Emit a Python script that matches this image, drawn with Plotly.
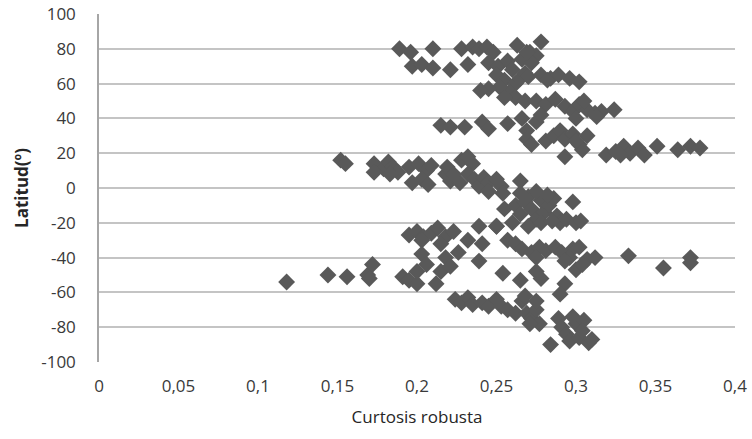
import plotly.graph_objects as go

# Curtosis robusta (x) vs Latitud (y)
curtosis = [
    0.189, 0.196, 0.210, 0.228, 0.235, 0.239, 0.244, 0.248, 0.263, 0.271, 0.278, 0.275,
    0.197, 0.203, 0.210, 0.221, 0.232, 0.245, 0.251, 0.257, 0.266, 0.272, 0.269,
    0.250, 0.255, 0.260, 0.262, 0.258, 0.252, 0.245, 0.240, 0.265, 0.268, 0.270, 0.262, 0.268, 0.255,
    0.278, 0.284, 0.289, 0.296, 0.302, 0.282,
    0.275, 0.281, 0.287, 0.293, 0.298, 0.302, 0.307, 0.312, 0.316, 0.324, 0.300, 0.313, 0.305,
    0.215, 0.221, 0.230, 0.241, 0.245, 0.257, 0.266, 0.269, 0.275, 0.278,
    0.269, 0.272, 0.281, 0.286, 0.290, 0.293, 0.298, 0.302, 0.307, 0.304, 0.293, 0.300,
    0.319, 0.325, 0.330, 0.334, 0.339, 0.343, 0.351, 0.364, 0.372, 0.378, 0.328,
    0.152, 0.155, 0.173, 0.179, 0.182, 0.185, 0.188, 0.195, 0.201, 0.206, 0.209, 0.173, 0.183,
    0.197, 0.203, 0.207, 0.218, 0.221, 0.219, 0.228, 0.232, 0.235, 0.232, 0.236, 0.239, 0.242,
    0.245, 0.250, 0.253, 0.254, 0.245, 0.265, 0.227, 0.223,
    0.255, 0.262, 0.265, 0.268, 0.270, 0.272, 0.275, 0.278, 0.280, 0.283, 0.286, 0.288, 0.290,
    0.294, 0.298, 0.300, 0.303, 0.260, 0.270, 0.278, 0.285, 0.265, 0.275, 0.282, 0.250,
    0.195, 0.200, 0.204, 0.209, 0.213, 0.218, 0.223, 0.215, 0.232, 0.239, 0.241, 0.250, 0.203,
    0.257, 0.262, 0.266, 0.272, 0.277, 0.281, 0.287, 0.291, 0.298, 0.302, 0.275, 0.296, 0.307,
    0.312, 0.333, 0.355, 0.372, 0.372, 0.300, 0.304, 0.293,
    0.118, 0.144, 0.156, 0.169, 0.172, 0.170, 0.191, 0.195, 0.200, 0.203, 0.206, 0.212, 0.215,
    0.218, 0.221, 0.226, 0.200, 0.239,
    0.254, 0.265, 0.275, 0.278, 0.293, 0.290,
    0.224, 0.228, 0.232, 0.235, 0.241, 0.245, 0.250, 0.253, 0.257, 0.262, 0.266, 0.269, 0.272,
    0.275, 0.277, 0.271, 0.275, 0.268,
    0.284, 0.289, 0.291, 0.294, 0.296, 0.300, 0.302, 0.305, 0.308, 0.310, 0.298, 0.304,
]
latitud = [
    80, 78, 80, 80, 81, 80, 81, 78, 82, 78, 84, 76,
    70, 71, 69, 68, 71, 72, 70, 73, 74, 72, 78,
    65, 62, 68, 60, 55, 58, 57, 56, 63, 66, 64, 52, 50, 52,
    65, 63, 65, 63, 61, 62,
    50, 48, 51, 47, 44, 48, 45, 43, 44, 45, 40, 41, 50,
    36, 35, 35, 38, 34, 37, 40, 33, 38, 42,
    28, 25, 27, 30, 33, 28, 31, 25, 30, 22, 18, 27,
    19, 21, 24, 20, 23, 19, 24, 22, 24, 23, 19,
    16, 14, 14, 11, 15, 12, 9, 12, 14, 10, 13, 9, 8,
    3, 5, 2, 8, 4, 12, 16, 18, 14, 8, 5, 1, 6,
    3, 5, 1, -3, -2, 4, 3, 8,
    -12, -10, -15, -8, -5, -12, -18, -7, -14, -10, -6, -16, -20,
    -18, -8, -20, -19, -20, -22, -20, -19, -3, -2, -4, -22,
    -27, -25, -28, -26, -23, -28, -25, -32, -30, -22, -32, -22, -30,
    -30, -32, -35, -37, -34, -36, -34, -37, -35, -34, -40, -40, -41,
    -40, -39, -46, -40, -43, -47, -44, -42,
    -54, -50, -51, -50, -44, -52, -51, -53, -48, -38, -44, -55, -48,
    -40, -45, -37, -55, -42,
    -49, -53, -48, -52, -55, -61,
    -64, -66, -63, -67, -66, -68, -64, -68, -70, -72, -65, -72, -75,
    -70, -78, -78, -65, -62,
    -90, -75, -80, -84, -88, -78, -86, -76, -89, -87, -74, -82,
]

x_tickvals = [0, 0.05, 0.1, 0.15, 0.2, 0.25, 0.3, 0.35, 0.4]
x_ticktext = ["0", "0,05", "0,1", "0,15", "0,2", "0,25", "0,3", "0,35", "0,4"]
y_tickvals = [-100, -80, -60, -40, -20, 0, 20, 40, 60, 80, 100]
y_ticktext = ["-100", "-80", "-60", "-40", "-20", "0", "20", "40", "60", "80", "100"]

fig = go.Figure()
fig.add_trace(go.Scatter(
    x=curtosis, y=latitud, mode="markers",
    marker=dict(symbol="diamond", size=13, color="#595959", line=dict(width=0)),
    showlegend=False,
))

font_family = "'Open Sans', 'Liberation Sans', sans-serif"
fig.update_layout(
    width=752, height=439,
    margin=dict(l=99, r=17, t=14, b=77),
    paper_bgcolor="white", plot_bgcolor="white",
    font=dict(family=font_family, size=17, color="#3a3a3a"),
    xaxis=dict(
        range=[0, 0.4], tickvals=x_tickvals, ticktext=x_ticktext,
        showgrid=False, zeroline=False, showline=False,
        ticklabelstandoff=12, automargin=False,
        title=dict(text="Curtosis robusta", font=dict(size=17, color="#262626"), standoff=15),
    ),
    yaxis=dict(
        range=[-100, 100], tickvals=y_tickvals, ticktext=y_ticktext,
        showgrid=True, gridcolor="#c4c4c4", gridwidth=1.5,
        zeroline=False, showline=True, linecolor="#a6a6a6", linewidth=1.5,
        ticklabelstandoff=18, automargin=False,
        title=dict(text="<b>Latitud(º)</b>", font=dict(size=17, color="#262626"), standoff=8),
    ),
)

fig.write_html("out.html")
